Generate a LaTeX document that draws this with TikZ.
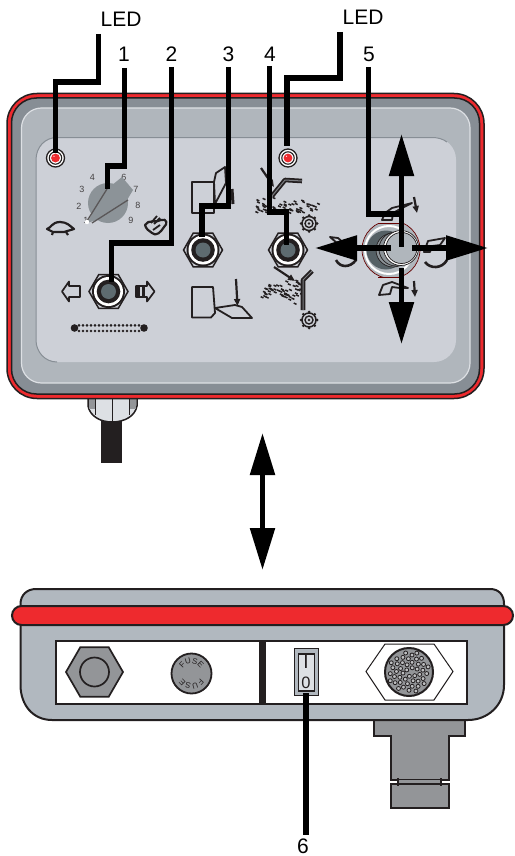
\documentclass[tikz,border=0pt]{standalone}
\usepackage{fontspec}
\setmainfont{Liberation Sans}
\usetikzlibrary{arrows.meta,decorations.text,shapes.geometric,calc}
\definecolor{ink}{HTML}{231F20}
\definecolor{redc}{HTML}{EE2A2E}
\definecolor{edge}{HTML}{878E95}
\definecolor{midg}{HTML}{B0B6BC}
\definecolor{panel}{HTML}{CDD0D7}
\definecolor{lightl}{HTML}{DDE0E4}
\definecolor{dial}{HTML}{8C9398}
\definecolor{metal}{HTML}{939598}
\definecolor{bodyc}{HTML}{B1B8BF}
\definecolor{core}{HTML}{5E6B70}
\tikzset{
  lbl/.style={font=\fontsize{21}{21}\selectfont,inner sep=0pt,text=black},
  num/.style={font=\fontsize{9}{9}\selectfont,inner sep=0pt,text=ink!85},
  leader/.style={line width=5.4pt,black,miter limit=10},
  bigarrow/.style={line width=5.4pt,black,-{Triangle[length=42pt,width=24pt]}},
  icon/.style={draw=ink,line width=1.8pt,line join=round},
  hexnut/.style={regular polygon,regular polygon sides=6,minimum size=39pt,inner sep=0pt,draw=ink,line width=1.5pt,fill=panel},
  ledring/.style={circle,minimum size=18pt,inner sep=0pt,draw=ink,line width=1.3pt,fill=white},
  shell/.style={line width=1.5pt,draw=ink}
}
\newcommand{\nutcore}[1]{%
  \fill[ink] (#1) circle[radius=16.5pt];
  \fill[white] (#1) circle[radius=14.5pt];
  \fill[ink] (#1) circle[radius=11.8pt];
  \fill[core] (#1) circle[radius=7.5pt];
}
\newcommand{\ledcore}[1]{%
  \draw[ink,line width=1.1pt] (#1) circle[radius=6.2pt];
  \fill[redc] (#1) circle[radius=4.4pt];
  \fill[white] ($(#1)+(-1.5,-1.8)$) circle[radius=0.6pt];
}
\newcommand{\dust}[6]{%
  \pgfmathsetseed{#6}
  \foreach \i in {1,...,#5}{
    \pgfmathsetmacro{\dx}{#1+#3*rnd}
    \pgfmathsetmacro{\dy}{#2+#4*rnd}
    \draw[ink,line width=1.5pt] (\dx,\dy) -- ++(2.8,1.3);
  }
}
\newcommand{\gearicon}[2]{%
  \foreach \a in {0,45,...,315}{\fill[ink] ($(#1,#2)+(\a:8pt)$) circle[radius=1.5pt];}
  \draw[ink,line width=1.5pt,fill=panel] (#1,#2) circle[radius=7pt];
  \draw[ink,line width=1.4pt] (#1,#2) circle[radius=4pt];
  \fill[ink] (#1,#2) circle[radius=1.4pt];
}
\newcommand{\smallarrow}[4]{%
  \draw[ink,line width=2.2pt,-{Triangle[length=7pt,width=6pt]}] (#1,#2) -- (#3,#4);
}
\newcommand{\hookicon}[1]{%
  \draw[ink,line width=4.6pt,line join=round] #1;
  \draw[panel!60!black,line width=1pt,line join=round] #1;
}
\begin{document}
\begin{tikzpicture}[x=1pt,y=-1pt]
\useasboundingbox (0,0) rectangle (514,856);
\fill[white] (0,0) rectangle (514,856);

% cable and gland
\fill[ink] (101,415) rectangle (122,463);
\draw[shell,fill=lightl] (88,396) -- (88,406) .. controls (90,416) and (100,422) .. (112,422) .. controls (125,422) and (135,416) .. (137,406) -- (137,396) -- cycle;
\fill[metal] (88.8,398) rectangle (95,409);
\fill[metal] (129,398) rectangle (136.2,409);
\draw[ink,line width=1pt] (95,399) -- (95,415) (129,399) -- (129,415) (112,399) -- (112,422);

% top housing
\draw[ink,line width=1.5pt,fill=redc,rounded corners=30pt] (7,93.5) rectangle (484,398.5);
\draw[ink,line width=1.5pt,fill=edge,rounded corners=25pt] (11.5,98) rectangle (479.5,394);
\draw[lightl,line width=1.2pt,fill=midg,rounded corners=20pt] (21.5,108) rectangle (470,383);
\fill[panel,rounded corners=22pt] (36,137.5) rectangle (456,362);
\draw[edge,line width=1pt] (57,362) .. controls (45,362) and (36,352) .. (36,340) -- (36,160) .. controls (36,147) and (45,137.5) .. (57,137.5) -- (432,137.5) .. controls (438,137.5) and (443,139) .. (447,142);

% LEDs
\node[ledring] (led1) at (55.5,158) {};
\ledcore{led1}
\node[ledring] (led2) at (288,158) {};
\ledcore{led2}

% dial
\foreach \t/\x/\y in {1/86/220,2/79/206,3/82/189,4/92.5/177,6/124/177,7/136/189,8/138/205,9/131/220}{
  \node[num] (n\t) at (\x,\y) {\t};
}
\fill[dial] (108,203) circle[radius=20pt];
\fill[dial] (87,223) -- (106,190) -- (122,177) -- (133,190) -- (127,200) -- (100,219) -- cycle;
\draw[ink!75,line width=1.3pt] (87,221) -- (107,189) (92,223) -- (128,200);
\fill[white] (87,222) circle[radius=2.2pt];

% turtle
\draw[icon,fill=panel,line width=2.2pt] (47,229) .. controls (51,228) and (52,222) .. (60,222) .. controls (67,222) and (70,226) .. (74,229) -- (64,232) -- (53,232) -- cycle;
\draw[ink,line width=2.2pt] (53,232) -- (52,235) (66,232) -- (68,235);
% rabbit
\draw[icon,fill=panel,line width=2.2pt] (145,225) .. controls (148,219) and (157,223) .. (161,220) .. controls (167,218) and (168,224) .. (164,227) .. controls (161,232) and (156,237) .. (152,233) .. controls (149,231) and (146,229) .. (145,225) -- cycle;
\draw[ink,line width=1.8pt] (151,223) -- (157,216) (154,224) -- (160,218) (153,230) -- (160,225);

% nut 2 and its icons
\node[hexnut] (nut2) at (108.5,291.5) {};
\nutcore{nut2}
\draw[icon,fill=panel,line width=1.7pt] (80,286) -- (69,286) -- (69,281.5) -- (62,291.5) -- (69,301.5) -- (69,297) -- (80,297) -- cycle;
\draw[icon,fill=panel,line width=1.7pt] (136,286) -- (147,286) -- (147,281.5) -- (154.5,291.5) -- (147,301.5) -- (147,297) -- (136,297) -- cycle;
\fill[ink] (136,286) rectangle (140,297);
\fill[ink] (142,286) rectangle (145,297);
\foreach \k in {0,...,15}{
  \fill[ink] (79+4*\k,325.3) circle[radius=1.45pt];
  \fill[ink] (79+4*\k,331) circle[radius=1.45pt];
}
\fill[ink] (74.5,328) circle[radius=3.8pt];
\fill[ink] (144,328) circle[radius=3.8pt];

% plough icons
\node[hexnut] (nut3) at (203,250) {};
\nutcore{nut3}
\draw[icon] (192,182) rectangle (214,213);
\draw[icon,fill=panel] (214,182) -- (216,173) -- (225,167) -- (226,183) -- (215,204) -- cycle;
\draw[ink,line width=3pt] (232,189) -- (233,204);
\draw[icon] (192,287) -- (213,287) -- (215,313) -- (211,317.5) -- (192,317.5) -- cycle;
\draw[icon,fill=panel] (215,308) -- (235,305) -- (242,307) -- (252,318) -- (232,318) -- cycle;
\smallarrow{236}{279}{237.5}{306}

% tool 4 icons
\node[hexnut] (nut4) at (288,250) {};
\nutcore{nut4}
\smallarrow{261}{168}{274}{187}
\hookicon{(272,196) -- (285,180) -- (302,181)}
\dust{255}{197}{20}{15}{24}{12}
\dust{278}{200}{40}{13}{34}{31}
\gearicon{309}{223.5}
\smallarrow{274}{267}{295}{281}
\dust{260}{284}{26}{13}{28}{45}
\dust{280}{280}{22}{24}{26}{8}
\hookicon{(303,310) -- (303,280) -- (312,271)}
\gearicon{309}{320}

% joystick icons
\draw[icon,fill=panel] (382,220) -- (385,213) -- (392,208) -- (412,203) -- (402,208) -- (393,213) -- (392,220) -- cycle;
\smallarrow{414}{197}{417}{213}
\draw[icon,fill=panel] (379,295) -- (383,285) -- (392,282) -- (408,288) -- (400,288) -- (392,287) -- (390,294) -- cycle;
\smallarrow{414}{281}{415}{297}
\draw[icon,fill=panel] (330,237) -- (338,238) -- (345,244) -- (337,243) -- cycle;
\draw[ink,line width=2.6pt] (336,260) .. controls (340,268) and (350,268) .. (356,260);
\draw[icon,fill=panel] (424,252) -- (428,241) -- (445,238) -- (440,245) -- (432,246) -- (430,252) -- cycle;
\draw[ink,line width=2.6pt] (425,262) .. controls (430,269) and (442,269) .. (447,260);

% joystick
\begin{scope}
  \clip (360,223) rectangle (422,277);
  \draw[red!40!black,line width=.7pt,fill=midg] (391,249.5) circle[radius=29pt];
\end{scope}
\draw[red!40!black,line width=.7pt] (378,223) -- (404,223) (378,277) -- (404,277);
\draw[white,line width=2pt] (389,250) circle[radius=24pt];
\fill[core!90!black] (386,250) circle[radius=19.5pt];
\fill[dial] (393,250) circle[radius=17pt];
\draw[ink,line width=.7pt] (393,250) circle[radius=17pt];
\draw[ink,line width=.7pt] (396,249) circle[radius=17pt];
\fill[white] (401,248) circle[radius=17.5pt];
\draw[ink,line width=.7pt] (401,248) circle[radius=17.5pt];
\node[circle,minimum size=31pt,inner sep=0pt,draw=ink,line width=.7pt,fill=midg] (stick) at (401.5,248) {};

% lower housing
\draw[shell,fill=metal,line width=2pt] (374,718) -- (374,735.5) -- (391,735.5) -- (391,780) -- (449,780) -- (449,735.5) -- (465,735.5) -- (465,718) -- cycle;
\fill[metal] (398,780) rectangle (441,784);
\draw[shell,fill=metal,line width=2pt] (391,784) rectangle (449,808);
\draw[ink,line width=1.5pt] (398,778) -- (398,786) (441,778) -- (441,786);
\draw[shell,fill=bodyc,line width=2pt] (20.5,606) -- (20.5,604) .. controls (20.5,595) and (27,589) .. (36,589) -- (490,589) .. controls (499,589) and (504,595) .. (504,604) -- (504,685) .. controls (504,705) and (488,720) .. (468,720) -- (52,720) .. controls (33,720) and (20.5,705) .. (20.5,685) -- cycle;
\draw[ink,line width=2pt,fill=redc,rounded corners=9.5pt] (12,606) rectangle (513,625);
\draw[ink,line width=2pt,fill=white] (56,641) rectangle (467,704);
\fill[ink] (258.5,641) rectangle (266,704);

% hex bolt
\node[regular polygon,regular polygon sides=6,minimum size=57pt,inner sep=0pt,draw=ink,line width=1.7pt,fill=metal] (bolt) at (94.5,672) {};
\draw[ink,line width=1.7pt] (bolt.center) circle[radius=14.5pt];
% fuse
\node[circle,minimum size=40pt,inner sep=0pt,draw=ink,line width=1.8pt,fill=metal] (fuse) at (191.5,673.5) {};
\path[decorate,decoration={text along path,text align=center,text={|\fontsize{8}{8}\selectfont\color{ink}|FUSE}}] ($(fuse.center)+(180:10pt)$) arc[start angle=180,end angle=0,radius=10pt];
\path[decorate,decoration={text along path,text align=center,text={|\fontsize{8}{8}\selectfont\color{ink}|FUSE}}] ($(fuse.center)+(0:10pt)$) arc[start angle=0,end angle=-180,radius=10pt];

% switch
\node[rectangle,minimum width=24pt,minimum height=47pt,inner sep=0pt,draw=ink,line width=1.5pt,fill=bodyc] (switch) at (306.5,672) {};
\draw[ink,line width=1.5pt,fill=lightl] (298.5,654) rectangle (314.5,691);
\node[inner sep=0pt,font=\fontsize{19}{19}\selectfont,text=ink] (swi) at (306,662) {I};
\node[inner sep=0pt,font=\fontsize{16.5}{17}\selectfont,text=ink] (swo) at (306,683) {0};

% connector
\draw[ink,line width=1pt,fill=white] (366,671.5) -- (385,644) -- (434,644) -- (453,671.5) -- (434,700) -- (385,700) -- cycle;
\node[circle,minimum size=48pt,inner sep=0pt,draw=ink,line width=2pt,fill=metal] (plug) at (409,672) {};
\foreach \n in {1,...,46}{
  \pgfmathsetmacro{\rr}{3.05*sqrt(\n)}
  \pgfmathsetmacro{\aa}{\n*137.5}
  \draw[ink,line width=.8pt,fill=metal!60!white] ($(plug.center)+(\aa:\rr pt)$) circle[radius=2pt];
}

% labels
\node[lbl] (tl) at (121,19) {LED};
\node[lbl] (tr) at (363,17) {LED};
\node[lbl] (t1) at (124,54) {1};
\node[lbl] (t2) at (171.5,54) {2};
\node[lbl] (t3) at (228.5,54) {3};
\node[lbl] (t4) at (270,54) {4};
\node[lbl] (t5) at (369,54) {5};
\node[lbl] (t6) at (303,846.5) {6};

% leader ends
\coordinate (a0) at (98.5,34);   \coordinate (b0) at (55.5,153);
\coordinate (a9) at (340,32);    \coordinate (b9) at (287,146);
\coordinate (a1) at (124.5,68);  \coordinate (b1) at (107.5,189);
\coordinate (a2) at (171.5,67);  \coordinate (b2) at (111.5,282);
\coordinate (a3) at (228.5,67);  \coordinate (b3) at (202,237);
\coordinate (a4) at (269.5,66);  \coordinate (b4) at (286.5,245);
\coordinate (a5) at (368.5,67);  \coordinate (j5) at (401.5,214);
\coordinate (a6) at (306,693);   \coordinate (b6) at (306,835);
\coordinate (up) at (401.5,134); \coordinate (c5) at (401.5,247);
\coordinate (dn0) at (401.5,268);\coordinate (dn) at (401.5,344);
\coordinate (lf0) at (391,248);  \coordinate (lf) at (315,248);
\coordinate (rt0) at (412,248);  \coordinate (rt) at (488,248);
\coordinate (da) at (262.5,433); \coordinate (db) at (262.5,570);

\draw[leader] (a0) |- (b0 |- 0,82) -- (b0);
\draw[leader] (a9) |- (b9 |- 0,78) -- (b9);
\draw[leader] (a1) |- (b1 |- 0,166) -- (b1);
\draw[leader] (a2) |- (b2 |- 0,243) -- (b2);
\draw[leader] (a3) |- (b3 |- 0,206) -- (b3);
\draw[leader] (a4) |- (b4 |- 0,212) -- (b4);
\draw[leader] (a5) |- (j5) -- (c5);
\draw[leader] (a6) -- (b6);
\draw[bigarrow] (j5) -- (up);
\draw[bigarrow] (dn0) -- (dn);
\draw[bigarrow] (lf0) -- (lf);
\draw[bigarrow] (rt0) -- (rt);
\draw[line width=5.4pt,black,{Triangle[length=42pt,width=24pt]}-{Triangle[length=42pt,width=24pt]}] (da) -- (db);
\end{tikzpicture}
\end{document}
